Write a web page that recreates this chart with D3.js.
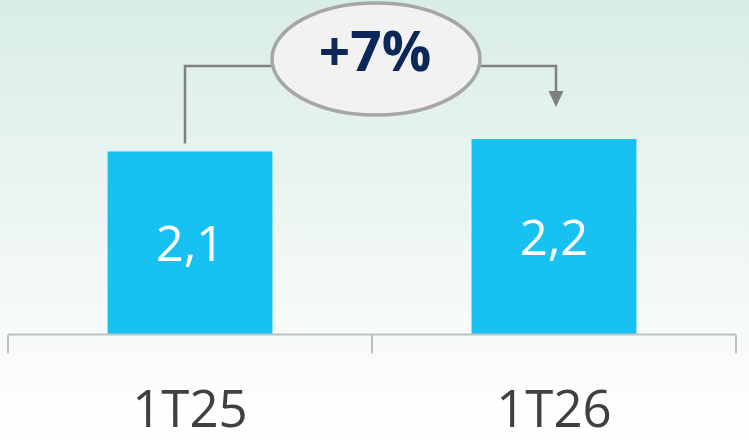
<!DOCTYPE html>
<html>
<head>
<meta charset="utf-8">
<script src="https://cdn.jsdelivr.net/npm/d3@7"></script>
<style>
  html, body { margin: 0; padding: 0; }
  body { width: 749px; height: 441px; overflow: hidden; }
  text { font-family: "Open Sans", "Noto Sans", sans-serif; }
</style>
</head>
<body>
<div id="chart"></div>
<script>
// data
const categories = ['1T25', '1T26'];
const values = [2.06, 2.2];
const growth = 7;

const width = 749;
const height = 441;
const axisY = 334.5;

const svg = d3.select('#chart')
    .append('svg')
        .attr('width', width)
        .attr('height', height);

// background gradient
const grad = svg.append('defs')
    .append('linearGradient')
        .attr('id', 'bg')
        .attr('x1', 0).attr('y1', 0)
        .attr('x2', 0).attr('y2', 1);
grad.append('stop').attr('offset', '0%').attr('stop-color', '#d9ede7');
grad.append('stop').attr('offset', '80%').attr('stop-color', '#f9fbfb');
grad.append('stop').attr('offset', '100%').attr('stop-color', '#ffffff');
svg.append('rect')
    .attr('width', width)
    .attr('height', height)
    .attr('fill', 'url(#bg)');

// scales
const x = d3.scaleBand()
    .domain(categories)
    .range([8, 736])
    .padding(0);
const barW = x.bandwidth() * 0.453;

const y = d3.scaleLinear()
    .domain([0, 2.2])
    .range([axisY, 139]);

// bars
svg.selectAll('.bar')
    .data(values)
    .enter()
    .append('rect')
        .attr('class', 'bar')
        .attr('x', (d, i) => x(categories[i]) + (x.bandwidth() - barW) / 2)
        .attr('y', d => y(d))
        .attr('width', barW)
        .attr('height', d => axisY - y(d))
        .attr('fill', '#17c2f3');

// bar value labels
const fmt = d => d3.format('.1f')(d).replace('.', ',');
svg.selectAll('.val')
    .data(values)
    .enter()
    .append('text')
        .attr('class', 'val')
        .attr('x', (d, i) => x(categories[i]) + x.bandwidth() / 2)
        .attr('y', (d, i) => (y(d) + axisY) / 2 + 18)
        .attr('text-anchor', 'middle')
        .attr('fill', '#ffffff')
        .style('font-size', '49px')
        .text(fmt);

// x axis
const axis = svg.append('g')
    .attr('transform', `translate(0,${axisY})`);
axis.append('line')
    .attr('x1', x.range()[0])
    .attr('x2', x.range()[1])
    .attr('stroke', '#bfbfbf')
    .attr('stroke-width', 2);
const tickPos = categories.map(c => x(c)).concat([x.range()[1]]);
axis.selectAll('.tick')
    .data(tickPos)
    .enter()
    .append('line')
        .attr('x1', d => d)
        .attr('x2', d => d)
        .attr('y1', 0)
        .attr('y2', 19)
        .attr('stroke', '#bfbfbf')
        .attr('stroke-width', 2);
axis.selectAll('.cat')
    .data(categories)
    .enter()
    .append('text')
        .attr('x', d => x(d) + x.bandwidth() / 2)
        .attr('y', 92)
        .attr('text-anchor', 'middle')
        .attr('fill', '#404040')
        .style('font-size', '51px')
        .text(d => d);

// growth connector
const cx = 376, cy = 59, rx = 104, ry = 56;
const lineY = 66;
const x0 = x(categories[0]) + x.bandwidth() / 2 - 5;
const x1 = x(categories[1]) + x.bandwidth() / 2 + 2;
const tipY = y(values[1]) - 32;

svg.append('path')
    .attr('d', `M${x0},${y(values[0]) - 8} V${lineY} H${cx - rx}`)
    .attr('fill', 'none')
    .attr('stroke', '#808080')
    .attr('stroke-width', 2.5);
svg.append('path')
    .attr('d', `M${cx + rx},${lineY} H${x1} V${tipY - 14}`)
    .attr('fill', 'none')
    .attr('stroke', '#808080')
    .attr('stroke-width', 2.5);
svg.append('path')
    .attr('d', `M${x1 - 7.5},${tipY - 16} L${x1 + 7.5},${tipY - 16} L${x1},${tipY} Z`)
    .attr('fill', '#7f7f7f');

svg.append('ellipse')
    .attr('cx', cx)
    .attr('cy', cy)
    .attr('rx', rx)
    .attr('ry', ry)
    .attr('fill', '#f2f2f2')
    .attr('stroke', '#a6a6a6')
    .attr('stroke-width', 3.5);

svg.append('text')
    .attr('x', cx - 1)
    .attr('y', 71)
    .attr('text-anchor', 'middle')
    .attr('fill', '#0b2859')
    .style('font-size', '55px')
    .style('font-weight', 'bold')
    .text(`+${growth}%`);
</script>
</body>
</html>
